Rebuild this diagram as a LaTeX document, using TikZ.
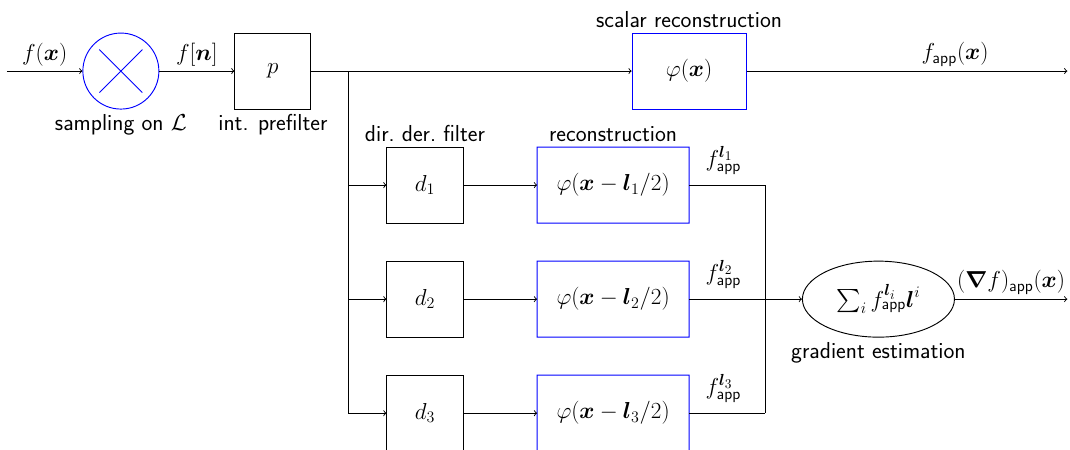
\documentclass[tikz,border=0pt]{standalone}
\usepackage{amsmath}
\usepackage{tikz}
\usetikzlibrary{shapes,arrows}

\begin{document}
\begin{tikzpicture}[node distance=4cm, auto, font=\LARGE\sffamily, line width=0.7pt,
  block/.style={rectangle, draw, minimum width=2cm, minimum height=2cm, inner sep=0pt},
  recon/.style={rectangle, draw=blue, minimum width=4cm, minimum height=2cm, inner sep=0pt},
  frame/.style={rectangle, minimum width=4cm, minimum height=2cm, inner sep=0pt, outer sep=0pt},
  sampler/.style={circle, draw=blue, minimum size=2cm, inner sep=0pt},
  estim/.style={draw, ellipse, minimum width=4cm, minimum height=2cm, inner sep=0pt},
  line/.style={draw, ->}]

  \clip (-3.18,-9.95) rectangle (24.97,1.87);

  \node [sampler, label=below:{sampling on $\mathcal{L}$}] (sampler) at (0,0) {};
  \draw [blue] (sampler.center) ++(45:0.8) -- ++(225:1.6);
  \draw [blue] (sampler.center) ++(135:0.8) -- ++(-45:1.6);
  \coordinate [left of=sampler, node distance=3cm] (input);
  \node [block, right of=sampler, label=below:{int. prefilter}] (prefilter) {$p$};
  \coordinate [right of=prefilter, node distance=2cm] (branch);
  \node [recon, right of=prefilter, node distance=10.95cm, minimum width=3cm,
    label=above:{scalar reconstruction}] (scalar) {$\varphi(\boldsymbol{x})$};
  \coordinate [right of=scalar, node distance=9.95cm] (fout);

  % directional derivatives
  \node [block, right of=prefilter, yshift=-3cm, label=above:{dir.\ der.\ filter}] (d1) {$d_1$};
  \node [block, right of=prefilter, yshift=-6cm] (d2) {$d_2$};
  \node [block, right of=prefilter, yshift=-9cm] (d3) {$d_3$};
  \node [frame, right of=d1, node distance=4.95cm, label=above:{reconstruction}] (phi1) {$\varphi(\boldsymbol{x}-\boldsymbol{l}_1/2)$};
  \node [frame, right of=d2, node distance=4.95cm] (phi2) {$\varphi(\boldsymbol{x}-\boldsymbol{l}_2/2)$};
  \node [frame, right of=d3, node distance=4.95cm] (phi3) {$\varphi(\boldsymbol{x}-\boldsymbol{l}_3/2)$};
  % blue frames of the reconstruction filters
  \foreach \n in {phi1,phi2,phi3}
    \fill [blue, even odd rule]
      ([shift={(-0.4pt,-0.4pt)}]\n.south west) rectangle ([shift={(0.4pt,0.4pt)}]\n.north east)
      ([shift={(0.4pt,0.4pt)}]\n.south west) rectangle ([shift={(-0.4pt,-0.4pt)}]\n.north east);
  \coordinate [right of=phi1] (m1);
  \coordinate [right of=phi2] (m2);
  \coordinate [right of=phi3] (m3);

  \node [estim, right of=phi2, node distance=6.98cm, label=below:{gradient estimation}] (grad)
    {$\sum_i f_{\mathsf{app}}^{\boldsymbol{l}_i}\boldsymbol{l}^i$};
  \coordinate [right of=grad, node distance=4.97cm] (gout);

  \path [line] (input) -- node [above] {$f(\boldsymbol{x})$} (sampler);
  \path [line] (sampler) -- node [above] {$f[\boldsymbol{n}]$} (prefilter);
  \draw (prefilter) -- (branch);
  \path [line] (branch) -- (scalar);
  \path [line] (scalar) -- node [above, pos=0.65] {$f_{\mathsf{app}}(\boldsymbol{x})$} (fout);
  \path [line] (branch) |- (d1);
  \path [line] (branch) |- (d2);
  \path [line] (branch) |- (d3);
  \path [line] (d1) -- (phi1);
  \path [line] (d2) -- (phi2);
  \path [line] (d3) -- (phi3);
  \draw (phi1) -- node [above=4pt, pos=0.45] {$f_{\mathsf{app}}^{\boldsymbol{l}_1}$} (m1) -- (m3);
  \draw (phi3) -- node [above=4pt, pos=0.45] {$f_{\mathsf{app}}^{\boldsymbol{l}_3}$} (m3);
  \path [line] (phi2) -- node [above=4pt, pos=0.45] {$f_{\mathsf{app}}^{\boldsymbol{l}_2}$} (m2) -- (grad);
  \path [line] (grad) -- node [above] {$(\boldsymbol{\nabla} f)_{\mathsf{app}}(\boldsymbol{x})$} (gout);
\end{tikzpicture}
\end{document}
